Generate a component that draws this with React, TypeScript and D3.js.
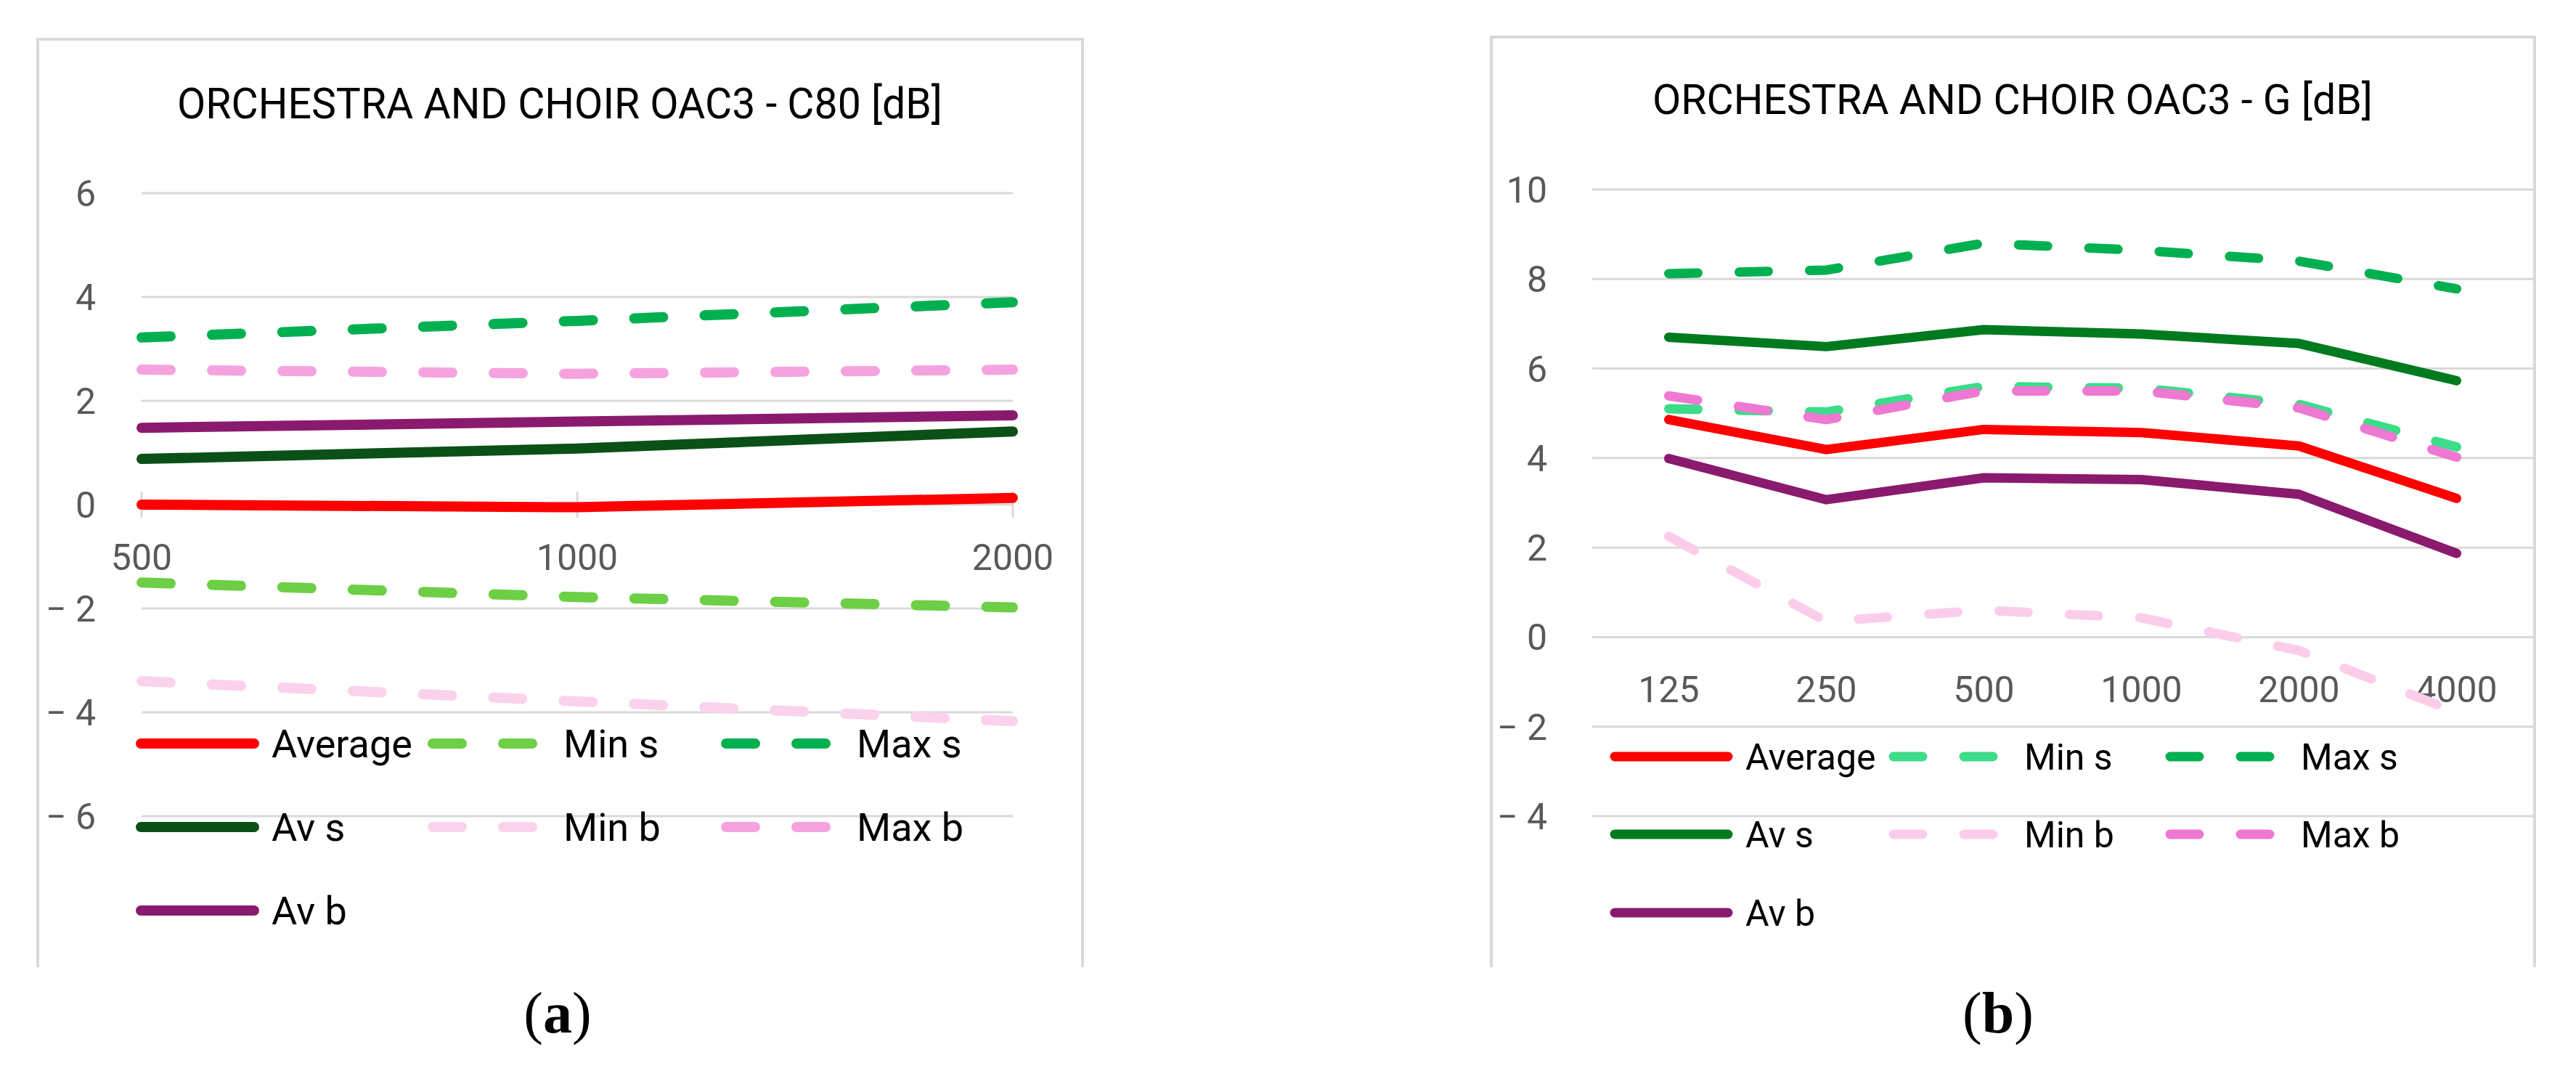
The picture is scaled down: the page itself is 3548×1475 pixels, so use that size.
import React from 'react';
import * as d3 from 'd3';

// ---- chart (a): C80 ----
const c80Freq = ['500', '1000', '2000'];
const c80Average = [0.0, -0.05, 0.13];
const c80MinS = [-1.5, -1.78, -1.98];
const c80MaxS = [3.22, 3.54, 3.9];
const c80AvS = [0.88, 1.08, 1.41];
const c80MinB = [-3.4, -3.79, -4.17];
const c80MaxB = [2.6, 2.52, 2.6];
const c80AvB = [1.48, 1.6, 1.72];
const c80Ticks = [-6, -4, -2, 0, 2, 4, 6];

// ---- chart (b): G ----
const gFreq = ['125', '250', '500', '1000', '2000', '4000'];
const gAverage = [4.86, 4.19, 4.64, 4.57, 4.27, 3.1];
const gMinS = [5.1, 5.03, 5.6, 5.56, 5.2, 4.25];
const gMaxS = [8.12, 8.2, 8.8, 8.64, 8.4, 7.78];
const gAvS = [6.7, 6.49, 6.87, 6.77, 6.56, 5.73];
const gMinB = [2.25, 0.35, 0.6, 0.43, -0.3, -1.68];
const gMaxB = [5.39, 4.86, 5.5, 5.5, 5.12, 4.02];
const gAvB = [3.99, 3.07, 3.56, 3.52, 3.19, 1.87];
const gTicks = [-4, -2, 0, 2, 4, 6, 8, 10];

const seriesNames = ['Average', 'Min s', 'Max s', 'Av s', 'Min b', 'Max b', 'Av b'];
const dashed = [false, true, true, false, true, true, false];

const c80Colors = ['#FF0000', '#6CCF45', '#00B050', '#0B5016', '#FAD2EC', '#F5A3DE', '#8A1A6E'];
const gColors = ['#FF0000', '#3CDC88', '#00B050', '#007A1E', '#FBCDEB', '#EE78D2', '#8A1A6E'];

const GRID = '#D9D9D9';
const LABEL = '#595959';
const FONT = 'Roboto, "Liberation Sans", sans-serif';
const DASH = '40,57';

interface ChartProps {
  frame: { left: number; right: number; top: number; bottom: number };
  title: string;
  titleX: number;
  titleY: number;
  titleSize: number;
  titleWidth: number;
  freq: string[];
  series: number[][];
  colors: string[];
  ticks: number[];
  xRange: [number, number];
  xPadding: number;
  yDomain: [number, number];
  yRange: [number, number];
  gridX: [number, number];
  labelRight: number;
  showTicks: boolean;
  legendX: number[];
  legendY: number[];
  legendSize: number;
  lineWidth: number;
  caption: string;
  captionX: number;
}

const fmt = (v: number) => (v < 0 ? `\u2212 ${Math.abs(v)}` : `${v}`);

const Chart = (p: ChartProps) => {
  const x = d3.scalePoint<string>().domain(p.freq).range(p.xRange).padding(p.xPadding);
  const y = d3.scaleLinear().domain(p.yDomain).range(p.yRange);
  const line = d3
    .line<number>()
    .x((_, i) => x(p.freq[i]) || 0)
    .y((d) => y(d));
  const y0 = y(0);

  // legend in 3 columns, row-major like Excel
  const legendPos = seriesNames.map((_, i) => ({
    sx: p.legendX[i % 3],
    sy: p.legendY[Math.floor(i / 3)],
  }));

  return (
    <g>
      {/* chart frame (bottom edge cut off) */}
      <path
        d={`M${p.frame.left},${p.frame.bottom}V${p.frame.top}H${p.frame.right}V${p.frame.bottom}`}
        fill="none"
        stroke={GRID}
        strokeWidth={4}
      />
      <text
        x={p.titleX}
        y={p.titleY}
        textAnchor="middle"
        fontFamily={FONT}
        fontSize={p.titleSize}
        textLength={p.titleWidth}
        lengthAdjust="spacingAndGlyphs"
        fill="#000"
      >
        {p.title}
      </text>

      {/* gridlines and y labels */}
      {p.ticks.map((t) => (
        <g key={t}>
          <line x1={p.gridX[0]} x2={p.gridX[1]} y1={y(t)} y2={y(t)} stroke={GRID} strokeWidth={3} />
          <text
            x={p.labelRight}
            y={y(t)}
            dy="0.36em"
            textAnchor="end"
            fontFamily={FONT}
            fontSize={50}
            fill={LABEL}
          >
            {fmt(t)}
          </text>
        </g>
      ))}

      {/* x tick marks crossing the zero axis */}
      {p.showTicks &&
        p.freq.map((f) => (
          <line key={f} x1={x(f)} x2={x(f)} y1={y0 - 18} y2={y0 + 18} stroke={GRID} strokeWidth={3} />
        ))}

      {/* x labels */}
      {p.freq.map((f) => (
        <text
          key={f}
          x={x(f)}
          y={y0 + 72}
          dy="0.36em"
          textAnchor="middle"
          fontFamily={FONT}
          fontSize={50}
          fill={LABEL}
        >
          {f}
        </text>
      ))}

      {/* series */}
      {p.series.map((s, i) => (
        <path
          key={seriesNames[i]}
          d={line(s) || ''}
          fill="none"
          stroke={p.colors[i]}
          strokeWidth={p.lineWidth}
          strokeLinecap="round"
          strokeLinejoin="round"
          strokeDasharray={dashed[i] ? DASH : undefined}
        />
      ))}

      {/* legend */}
      {seriesNames.map((name, i) => (
        <g key={name}>
          <line
            x1={legendPos[i].sx}
            x2={legendPos[i].sx + 156}
            y1={legendPos[i].sy}
            y2={legendPos[i].sy}
            stroke={p.colors[i]}
            strokeWidth={p.lineWidth}
            strokeLinecap="round"
            strokeDasharray={dashed[i] ? DASH : undefined}
          />
          <text
            x={legendPos[i].sx + 180}
            y={legendPos[i].sy}
            dy="0.36em"
            fontFamily={FONT}
            fontSize={p.legendSize}
            fill="#000"
          >
            {name}
          </text>
        </g>
      ))}

      {/* panel caption */}
      <text
        x={p.captionX}
        y={1422}
        textAnchor="middle"
        fontFamily='"Liberation Serif", "Times New Roman", serif'
        fontSize={80}
        fill="#000"
      >
        (<tspan fontWeight="bold">{p.caption}</tspan>)
      </text>
    </g>
  );
};

const App = () => {
  return (
    <svg
      width={3548}
      height={1475}
      style={{ position: 'absolute', left: 0, top: 0, background: '#fff' }}
    >
      <rect width={3548} height={1475} fill="#fff" />
      <Chart
        frame={{ left: 52, right: 1491, top: 54, bottom: 1332 }}
        title="ORCHESTRA AND CHOIR OAC3 - C80 [dB]"
        titleX={771}
        titleY={163}
        titleSize={60}
        titleWidth={1054}
        freq={c80Freq}
        series={[c80Average, c80MinS, c80MaxS, c80AvS, c80MinB, c80MaxB, c80AvB]}
        colors={c80Colors}
        ticks={c80Ticks}
        xRange={[195, 1395]}
        xPadding={0}
        yDomain={[-6, 6]}
        yRange={[1124, 266]}
        gridX={[195, 1395]}
        labelRight={132}
        showTicks={true}
        legendX={[194, 596, 1000]}
        legendY={[1024, 1139, 1254]}
        legendSize={54}
        lineWidth={14}
        caption="a"
        captionX={768}
      />
      <Chart
        frame={{ left: 2054, right: 3491, top: 51, bottom: 1332 }}
        title="ORCHESTRA AND CHOIR OAC3 - G [dB]"
        titleX={2772}
        titleY={157}
        titleSize={57}
        titleWidth={992}
        freq={gFreq}
        series={[gAverage, gMinS, gMaxS, gAvS, gMinB, gMaxB, gAvB]}
        colors={gColors}
        ticks={gTicks}
        xRange={[2190, 3492]}
        xPadding={0.5}
        yDomain={[-4, 10]}
        yRange={[1124, 261]}
        gridX={[2193, 3490]}
        labelRight={2131}
        showTicks={false}
        legendX={[2224, 2608, 2989]}
        legendY={[1042, 1149, 1257]}
        legendSize={50}
        lineWidth={13}
        caption="b"
        captionX={2752}
      />
    </svg>
  );
};

export default App;
